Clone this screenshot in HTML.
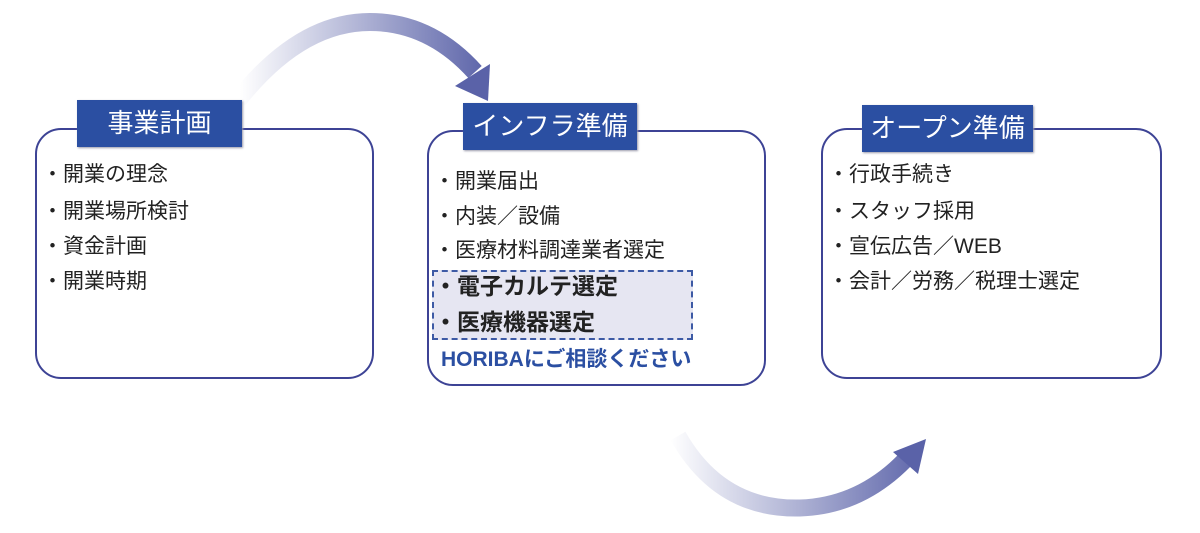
<!DOCTYPE html>
<html><head><meta charset="utf-8"><style>
body{margin:0;width:1200px;height:533px;background:#fff;position:relative;overflow:hidden;font-family:"Liberation Sans","Noto Sans CJK JP",sans-serif;}
.box{position:absolute;border:2.5px solid #3d4395;border-radius:26px;background:#fff;box-sizing:border-box}
.lab{position:absolute;background:#2b4fa2;color:#fff;font-size:26px;line-height:47px;text-align:center;box-shadow:1px 1px 2px #99a}
.t{position:absolute;font-size:21px;color:#222;white-space:nowrap;line-height:26px}
.b{font-weight:bold;font-size:23px}
</style></head><body>
<svg width="1200" height="533" style="position:absolute;left:0;top:0">
<defs>
<linearGradient id="g1" x1="240" y1="0" x2="490" y2="0" gradientUnits="userSpaceOnUse"><stop offset="0" stop-color="#fff"/><stop offset="1" stop-color="#5a62a8"/></linearGradient>
<linearGradient id="g2" x1="670" y1="0" x2="930" y2="0" gradientUnits="userSpaceOnUse"><stop offset="0" stop-color="#fff"/><stop offset="1" stop-color="#5a62a8"/></linearGradient>
</defs>
<path d="M238 100 Q300 22 370 22 Q430 22 475 72" stroke="url(#g1)" stroke-width="18" fill="none"/>
<polygon points="455,86 490,64 488,101" fill="#5a62a8"/>
<path d="M678 436 Q720 510 800 508 Q860 506 905 460" stroke="url(#g2)" stroke-width="17" fill="none"/>
<polygon points="893,452 926,439 918,474" fill="#5a62a8"/>
</svg>
<div class="box" style="left:35px;top:128px;width:339px;height:251px"></div>
<div class="lab" style="left:77px;top:100px;width:165px">事業計画</div>
<div class="t" style="left:42px;top:162px">・開業の理念</div>
<div class="t" style="left:42px;top:199px">・開業場所検討</div>
<div class="t" style="left:42px;top:234px">・資金計画</div>
<div class="t" style="left:42px;top:269px">・開業時期</div>

<div class="box" style="left:427px;top:130px;width:339px;height:256px"></div>
<div class="lab" style="left:463px;top:103px;width:174px">インフラ準備</div>
<div class="t" style="left:434px;top:169px">・開業届出</div>
<div class="t" style="left:434px;top:204px">・内装／設備</div>
<div class="t" style="left:434px;top:238px">・医療材料調達業者選定</div>
<div style="position:absolute;left:432px;top:270px;width:261px;height:70px;border:2px dashed #3d5aa5;background:#e6e6f2;box-sizing:border-box"></div>
<div class="t b" style="left:434px;top:273px">・電子カルテ選定</div>
<div class="t b" style="left:434px;top:309px">・医療機器選定</div>
<div class="t" style="left:441px;top:347px;color:#2b4fa2;font-weight:bold;font-size:21px">HORIBAにご相談ください</div>

<div class="box" style="left:821px;top:128px;width:341px;height:251px"></div>
<div class="lab" style="left:862px;top:105px;width:171px">オープン準備</div>
<div class="t" style="left:828px;top:162px">・行政手続き</div>
<div class="t" style="left:828px;top:199px">・スタッフ採用</div>
<div class="t" style="left:828px;top:234px">・宣伝広告／WEB</div>
<div class="t" style="left:828px;top:269px">・会計／労務／税理士選定</div>
</body></html>
